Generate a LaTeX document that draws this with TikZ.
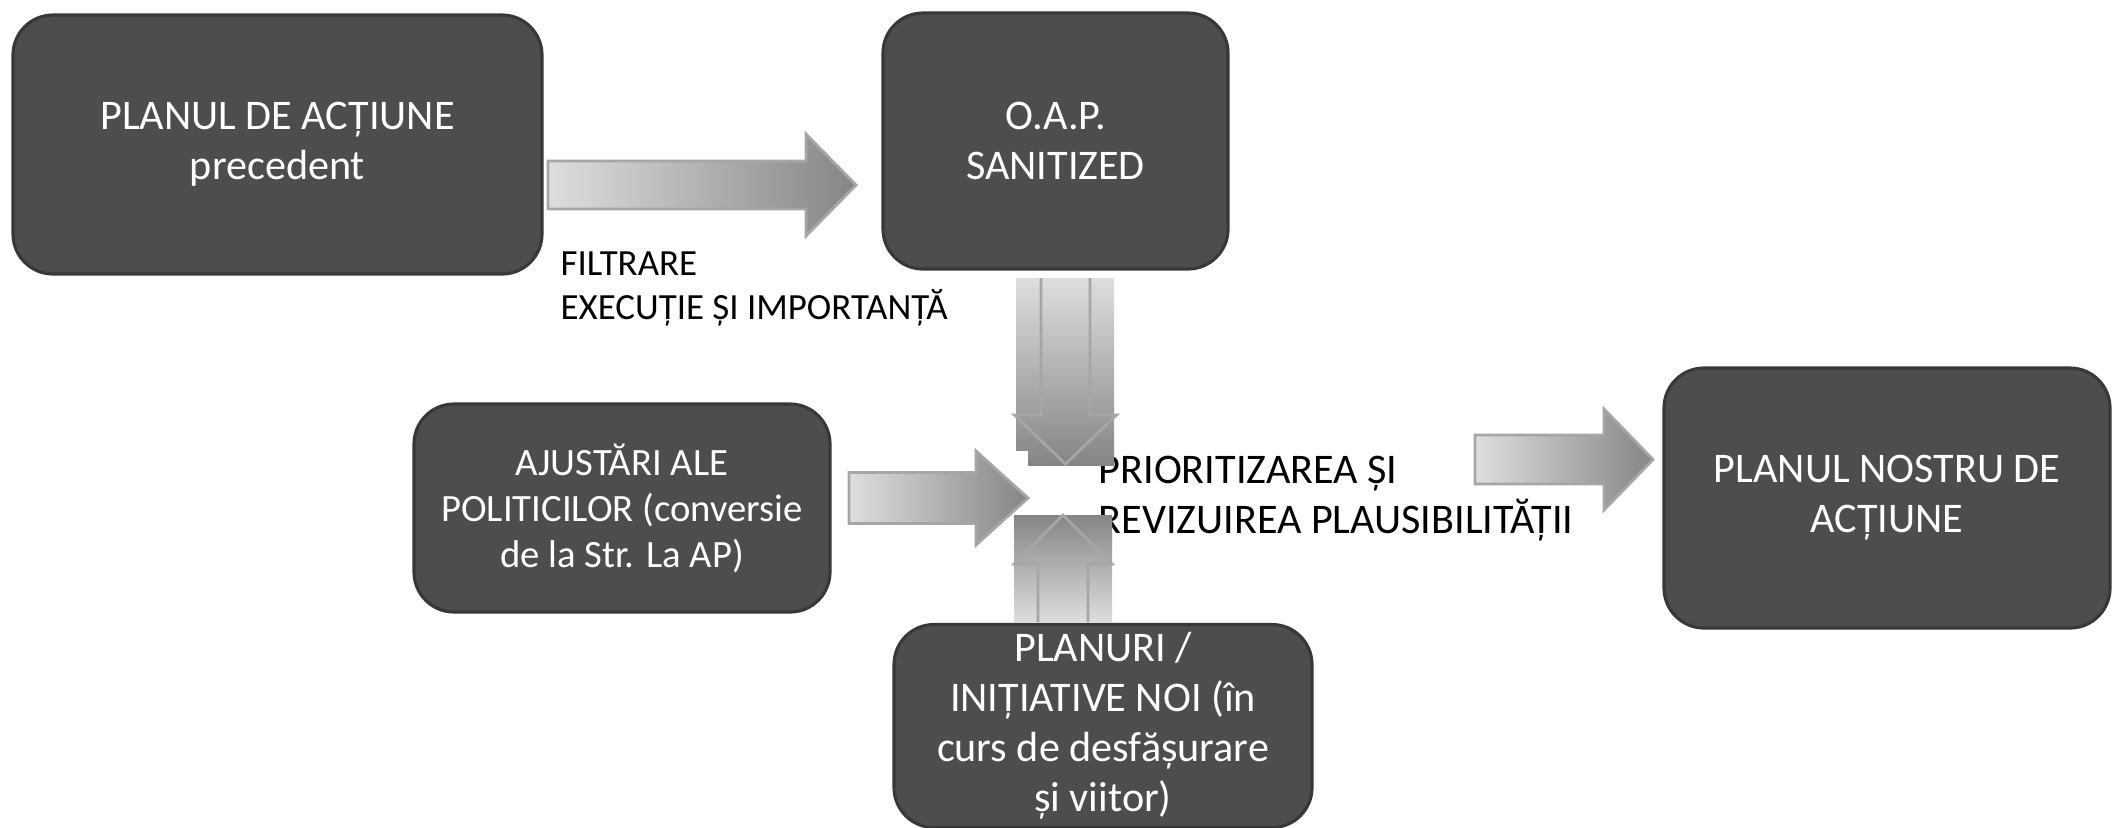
\documentclass[tikz,border=0pt]{standalone}
\usepackage{fontspec}
\setmainfont{Carlito}
\usepackage{tikz}
\usetikzlibrary{positioning}
\definecolor{boxgray}{HTML}{4D4D4D}
\definecolor{boxedge}{HTML}{383838}
\definecolor{arrlight}{HTML}{DEDEDE}
\definecolor{arrdark}{HTML}{858585}
\definecolor{arredge}{HTML}{A6A6A6}
\tikzset{
  planbox/.style={rectangle, rounded corners=0.4cm, fill=boxgray, draw=boxedge,
    line width=0.9pt, text=white, align=center, inner sep=0pt,
    font=\fontsize{12}{14.2}\selectfont},
  blockarrow/.style={draw=arredge, line width=0.8pt},
  caption/.style={anchor=west, align=left, inner sep=0pt}
}
% horizontal block arrow: left x, head base x, tip x, y, shaft half, head half
\newcommand{\rarrow}[6]{%
  \draw[blockarrow, left color=arrlight, right color=arrdark]
    (#1,#4+#5) -- (#2,#4+#5) -- (#2,#4+#6) -- (#3,#4) -- (#2,#4-#6)
    -- (#2,#4-#5) -- (#1,#4-#5) -- cycle;}
% vertical block arrow outline: x, tail y, head base y, tip y, shaft half, head half
\newcommand{\varrow}[6]{%
  \draw[blockarrow]
    (#1-#5,#2) -- (#1-#5,#3) -- (#1-#6,#3) -- (#1,#4) -- (#1+#6,#3)
    -- (#1+#5,#3) -- (#1+#5,#2);}

\begin{document}
\begin{tikzpicture}
    \useasboundingbox (0,0) rectangle (21.13,-8.27);

    % plan boxes
    \node[planbox, minimum width=5.29cm, minimum height=2.59cm] (prev) at (2.775,-1.445)
        {PLANUL DE ACȚIUNE\\precedent};
    \node[planbox, minimum width=3.45cm, minimum height=2.56cm] (oap) at (10.555,-1.41)
        {O.A.P.\\SANITIZED};
    \node[planbox, minimum width=4.16cm, minimum height=2.08cm,
          font=\fontsize{11}{13.1}\selectfont] (ajust) at (6.22,-5.08)
        {AJUSTĂRI ALE\\POLITICILOR (conversie\\de la Str. La AP)};
    \node[planbox, minimum width=4.18cm, minimum height=2.03cm] (noi) at (11.03,-7.26)
        {PLANURI /\\INIȚIATIVE NOI (în\\curs de desfășurare\\și viitor)};
    \node[planbox, minimum width=4.46cm, minimum height=2.60cm] (nostru) at (18.87,-4.98)
        {PLANUL NOSTRU DE\\ACȚIUNE};

    % captions
    \node[caption, font=\fontsize{10.5}{12.5}\selectfont] (filtrare) at (5.60,-2.89)
        {FILTRARE\\EXECUȚIE ȘI IMPORTANȚĂ};
    \node[caption, font=\fontsize{12}{14.2}\selectfont] (prior) at (10.98,-4.99)
        {PRIORITIZAREA ȘI\\REVIZUIREA PLAUSIBILITĂȚII};

    % prev -> oap
    \rarrow{5.48}{8.06}{8.56}{-1.85}{0.24}{0.51}

    % oap -> prior (shaded frame behind the arrow)
    \shade[top color=arrlight, bottom color=arrdark] (10.16,-2.78) rectangle (11.14,-4.65);
    \varrow{10.655}{-2.78}{-4.15}{-4.64}{0.245}{0.51}

    % ajust -> prior
    \fill[white] (8.49,-4.51) rectangle (10.28,-5.48);
    \rarrow{8.49}{9.76}{10.28}{-4.98}{0.255}{0.47}

    % noi -> prior
    \shade[top color=arrdark, bottom color=arrlight] (10.14,-5.15) rectangle (11.12,-6.22);
    \varrow{10.63}{-6.22}{-5.64}{-5.15}{0.25}{0.49}

    % prior -> nostru
    \rarrow{14.75}{16.04}{16.53}{-4.595}{0.245}{0.505}
\end{tikzpicture}
\end{document}
